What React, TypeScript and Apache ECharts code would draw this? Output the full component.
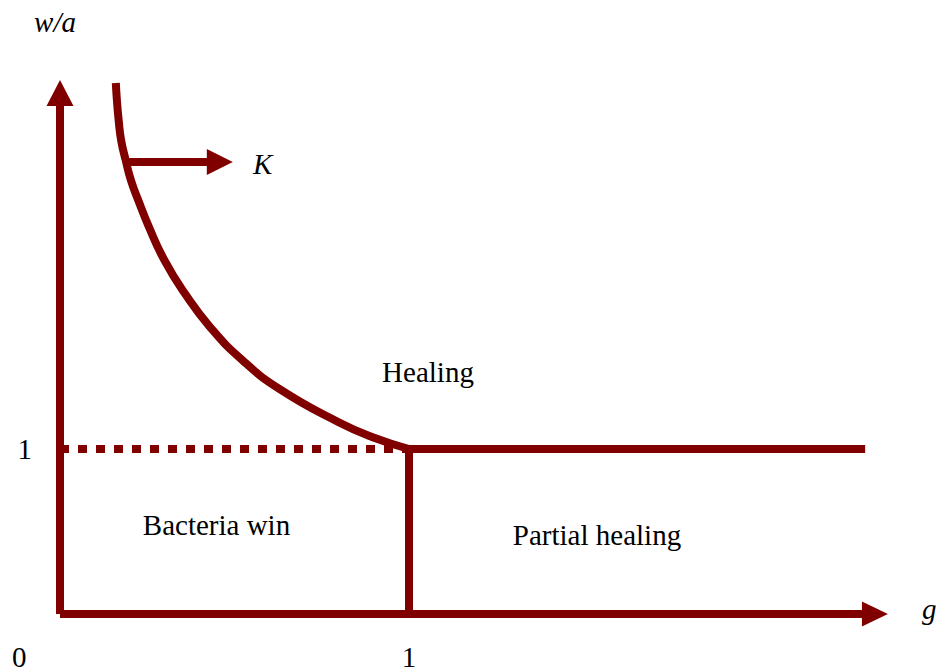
import React, { useEffect, useRef } from "react";
import * as echarts from "echarts";

const COLOR = "#800000";
const FONT = "'Liberation Serif', 'Times New Roman', Times, serif";

// Critical curve K : points (g, w/a)
const curveG = [0.16, 0.163, 0.168, 0.175, 0.188, 0.203, 0.224, 0.255, 0.299, 0.357, 0.43, 0.522, 0.633, 0.797, 0.894, 1.0];
const curveWA = [3.218, 3.115, 2.994, 2.873, 2.752, 2.63, 2.509, 2.345, 2.145, 1.945, 1.739, 1.539, 1.358, 1.164, 1.073, 1.0];

// Boundary Healing / Partial healing (w/a = 1, g >= 1)
const healingG = [1, 2.307];
const healingWA = [1, 1];
// Boundary Bacteria win / Partial healing (g = 1)
const partialG = [1, 1];
const partialWA = [1, 0];
// Dotted continuation w/a = 1, g < 1
const dottedG = [0, 1];
const dottedWA = [1, 1];
// Axes shafts
const xAxisG = [0, 2.3];
const xAxisWA = [0, 0];
const yAxisG = [0, 0];
const yAxisWA = [0, 3.09];
// K arrow shaft
const kArrowG = [0.188, 0.425];
const kArrowWA = [2.739, 2.739];
// Arrow heads (g, w/a, rotation)
const headG = [0, 2.335, 0.458];
const headWA = [3.158, 0, 2.739];
const headRotate = [0, -90, -90];

// Tick labels
const xTickLabels = ["0", "1"];
const yTickLabels = ["1"];
const axisNames = ["g", "w/a"];
const regionLabels = ["Healing", "Bacteria win", "Partial healing"];
const curveLabel = "K";

const pairs = (xs: number[], ys: number[]) => xs.map((x, i) => [x, ys[i]]);

export default function App() {
  const ref = useRef<HTMLDivElement>(null);
  useEffect(() => {
    if (!ref.current) return;
    const chart = echarts.init(ref.current, null, { renderer: "svg" });
    const lineBase = (data: number[][], extra: any = {}) => ({
      type: "line",
      data,
      showSymbol: false,
      symbol: "none",
      clip: false,
      silent: true,
      lineStyle: { color: COLOR, width: 8, cap: "butt", opacity: 1, ...(extra.lineStyle || {}) },
      ...(extra.smooth !== undefined ? { smooth: extra.smooth } : {}),
    });
    const textStyle = { fill: "#000", fontSize: 29, fontFamily: FONT };
    chart.setOption({
      animation: false,
      backgroundColor: "#fff",
      grid: { left: 60, right: 5.5, top: 53, bottom: 57 },
      xAxis: {
        type: "value",
        min: 0,
        max: 2.5,
        interval: 1,
        axisLine: { show: false },
        axisTick: { show: false },
        splitLine: { show: false },
        axisLabel: {
          margin: 28,
          fontSize: 29,
          fontFamily: FONT,
          color: "#000",
          showMaxLabel: false,
          formatter: (v: number) => (v === 1 ? xTickLabels[1] : ""),
        },
      },
      yAxis: {
        type: "value",
        min: 0,
        max: 3.4,
        interval: 1,
        axisLine: { show: false },
        axisTick: { show: false },
        splitLine: { show: false },
        axisLabel: {
          margin: 28,
          fontSize: 29,
          fontFamily: FONT,
          color: "#000",
          padding: [8, 0, 0, 0],
          formatter: (v: number) => (v === 1 ? yTickLabels[0] : ""),
        },
      },
      series: [
        lineBase(pairs(xAxisG, xAxisWA)),
        lineBase(pairs(yAxisG, yAxisWA)),
        lineBase(pairs(dottedG, dottedWA), { lineStyle: { type: [9, 9] } }),
        lineBase(pairs(curveG, curveWA), { smooth: 0.5 }),
        lineBase(pairs(healingG, healingWA)),
        lineBase(pairs(partialG, partialWA)),
        lineBase(pairs(kArrowG, kArrowWA)),
        {
          type: "scatter",
          silent: true,
          clip: false,
          data: headG.map((g, i) => ({
            value: [g, headWA[i]],
            symbolRotate: headRotate[i],
            symbolSize: i === 0 ? [27, 26] : i === 1 ? [25, 26] : [26, 26],
          })),
          symbol: "triangle",
          itemStyle: { color: COLOR, opacity: 1 },
        },
      ],
      graphic: [
        { type: "text", left: 12, top: 642, style: { text: xTickLabels[0], ...textStyle } },
        { type: "text", x: 55, y: 22, style: { text: axisNames[1], ...textStyle, fontStyle: "italic", align: "center", verticalAlign: "middle" } },
        { type: "text", x: 922, y: 609, style: { text: axisNames[0], ...textStyle, fontStyle: "italic", align: "left", verticalAlign: "middle" } },
        { type: "text", x: 253, y: 164, style: { text: curveLabel, ...textStyle, fontStyle: "italic", align: "left", verticalAlign: "middle" } },
        { type: "text", x: 428, y: 372, style: { text: regionLabels[0], ...textStyle, align: "center", verticalAlign: "middle" } },
        { type: "text", x: 216.5, y: 525, style: { text: regionLabels[1], ...textStyle, align: "center", verticalAlign: "middle" } },
        { type: "text", x: 597, y: 535, style: { text: regionLabels[2], ...textStyle, align: "center", verticalAlign: "middle" } },
      ],
    });
    return () => chart.dispose();
  }, []);
  return (
    <div
      ref={ref}
      style={{ position: "fixed", left: 0, top: 0, width: 938, height: 671, background: "#fff" }}
    />
  );
}
